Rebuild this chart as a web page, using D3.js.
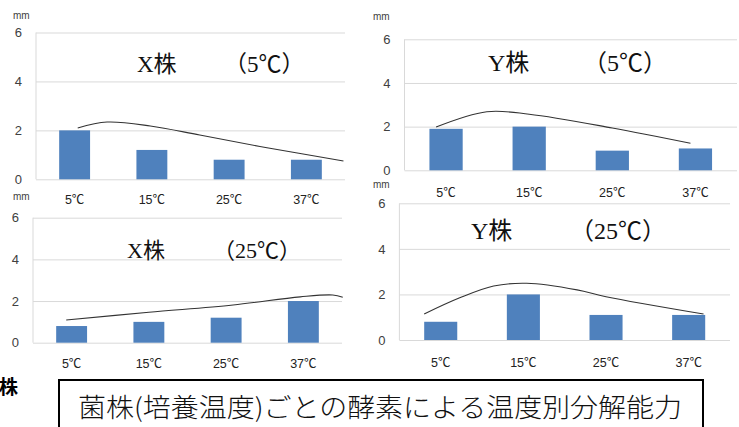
<!DOCTYPE html>
<html>
<head>
<meta charset="utf-8">
<script src="https://cdn.jsdelivr.net/npm/d3@7"></script>
<style>
  html, body { margin: 0; padding: 0; background: #fff; }
  svg { display: block; }
</style>
</head>
<body>
<svg id="chart" width="739" height="427"></svg>
<script>
// Assay temperatures (x categories) and y ticks, shared by all four panels
const categories = ["5℃", "15℃", "25℃", "37℃"];
const yTicks = [0, 2, 4, 6];
const unitLabel = "mm";

// Panel titles: strain and culture temperature
const strains = ["X株", "Y株", "X株", "Y株"];
const cultureTemps = ["（5℃）", "（5℃）", "（25℃）", "（25℃）"];

// Zone diameter (mm) at each assay temperature
const xStrain5 = [2.0, 1.2, 0.8, 0.8];
const yStrain5 = [1.9, 2.0, 0.9, 1.0];
const xStrain25 = [0.8, 1.0, 1.2, 2.0];
const yStrain25 = [0.8, 2.0, 1.1, 1.1];

// Hand-drawn trend curves: [category position, mm]
const xStrain5Trend = [[0.04, 2.1], [0.42, 2.34], [0.98, 2.18], [1.62, 1.81], [2.49, 1.29], [3.48, 0.75]];
const yStrain5Trend = [[-0.12, 1.98], [0.49, 2.68], [1.0, 2.57], [2.0, 1.94], [2.94, 1.24]];
const xStrain25Trend = [[-0.07, 1.09], [1.0, 1.46], [2.09, 1.81], [2.96, 2.2], [3.38, 2.29], [3.51, 2.18]];
const yStrain25Trend = [[-0.2, 1.14], [0.23, 1.85], [0.64, 2.37], [1.04, 2.49], [1.65, 2.2], [2.0, 1.9], [3.18, 1.14]];

const captionText = "菌株(培養温度)ごとの酵素による温度別分解能力";
const sideText = "株";

// ---- layout ----
const svg = d3.select("#chart");
const BAR = "#4f81bd";
const GRID = "#d9d9d9";
const AXIS_TEXT = "#404040";
const SANS = "'Liberation Sans', 'Noto Sans CJK JP', sans-serif";
const SERIF = "'Liberation Serif', 'Noto Sans CJK JP', serif";

const panels = [
  { values: xStrain5, trend: xStrain5Trend, left: 36, right: 345, top: 32.5, bottom: 179.3,
    mm: [13, 19], strainX: 137, tempX: 224, titleY: 72, tickPad: 16, fs: 23 },
  { values: yStrain5, trend: yStrain5Trend, left: 404.5, right: 737, top: 39.3, bottom: 170.3,
    mm: [373, 20], strainX: 488, tempX: 583, titleY: 71, tickPad: 18, fs: 24 },
  { values: xStrain25, trend: xStrain25Trend, left: 33, right: 342, top: 217.7, bottom: 342.7,
    mm: [13, 200], strainX: 127, tempX: 213, titleY: 258, tickPad: 16, fs: 22 },
  { values: yStrain25, trend: yStrain25Trend, left: 399.4, right: 730, top: 203.3, bottom: 340,
    mm: [373, 188], strainX: 471, tempX: 570, titleY: 239, tickPad: 18, fs: 24 }
];

panels.forEach((p, i) => {
  const g = svg.append("g");
  const x = d3.scaleBand().domain(categories).range([p.left, p.right]).paddingInner(0.6).paddingOuter(0.3);
  const y = d3.scaleLinear().domain([0, 6]).range([p.bottom, p.top]);
  const pos = c => p.left + x.step() * (c + 0.5);

  // gridlines and y tick labels
  const yAxis = g.append("g")
    .attr("transform", `translate(${p.left},0)`)
    .call(d3.axisLeft(y).tickValues(yTicks).tickFormat(d3.format("d"))
      .tickSize(-(p.right - p.left)).tickPadding(14));
  yAxis.select(".domain").remove();
  yAxis.selectAll(".tick line").attr("stroke", GRID).attr("stroke-width", 1);
  yAxis.selectAll(".tick text").attr("fill", AXIS_TEXT).style("font-family", SANS).style("font-size", "13px");

  // left edge of the plot area
  g.append("line")
    .attr("x1", p.left).attr("x2", p.left)
    .attr("y1", y(6)).attr("y2", y(0))
    .attr("stroke", GRID);

  // x tick labels
  const xAxis = g.append("g")
    .attr("transform", `translate(0,${p.bottom})`)
    .call(d3.axisBottom(x).tickSize(0).tickPadding(p.tickPad));
  xAxis.select(".domain").remove();
  xAxis.selectAll(".tick text").attr("fill", "#222").style("font-family", SANS).style("font-size", "12.5px");

  // bars
  g.selectAll("rect.bar")
    .data(p.values)
    .join("rect")
    .attr("class", "bar")
    .attr("x", (d, j) => x(categories[j]))
    .attr("width", x.bandwidth())
    .attr("y", d => y(d))
    .attr("height", d => y(0) - y(d))
    .attr("fill", BAR);

  // trend curve
  g.append("path")
    .datum(p.trend)
    .attr("d", d3.line().x(d => pos(d[0])).y(d => y(d[1])).curve(d3.curveCatmullRom.alpha(0.5)))
    .attr("fill", "none")
    .attr("stroke", "#333")
    .attr("stroke-width", 1.1);

  // unit label
  g.append("text")
    .attr("x", p.mm[0]).attr("y", p.mm[1])
    .attr("fill", AXIS_TEXT)
    .style("font-family", SANS).style("font-size", "10px")
    .text(unitLabel);

  // panel title
  g.append("text")
    .attr("x", p.strainX).attr("y", p.titleY)
    .style("font-family", SERIF).style("font-size", p.fs + "px").attr("fill", "#111")
    .text(strains[i]);
  g.append("text")
    .attr("x", p.tempX).attr("y", p.titleY)
    .style("font-family", SERIF).style("font-size", p.fs + "px").attr("fill", "#111")
    .text(cultureTemps[i]);
});

// partial label at lower left
svg.append("text")
  .attr("x", -1).attr("y", 394)
  .style("font-family", "'Noto Sans CJK JP', sans-serif")
  .style("font-size", "19px").style("font-weight", "bold")
  .text(sideText);

// caption box
svg.append("rect")
  .attr("x", 59).attr("y", 380)
  .attr("width", 644).attr("height", 70)
  .attr("fill", "#fff").attr("stroke", "#000").attr("stroke-width", 2);
svg.append("text")
  .attr("x", 78).attr("y", 417)
  .attr("textLength", 604).attr("lengthAdjust", "spacingAndGlyphs")
  .style("font-family", "'Noto Sans CJK JP', sans-serif")
  .style("font-size", "26px").style("font-weight", 300)
  .attr("fill", "#111")
  .text(captionText);
</script>
</body>
</html>
